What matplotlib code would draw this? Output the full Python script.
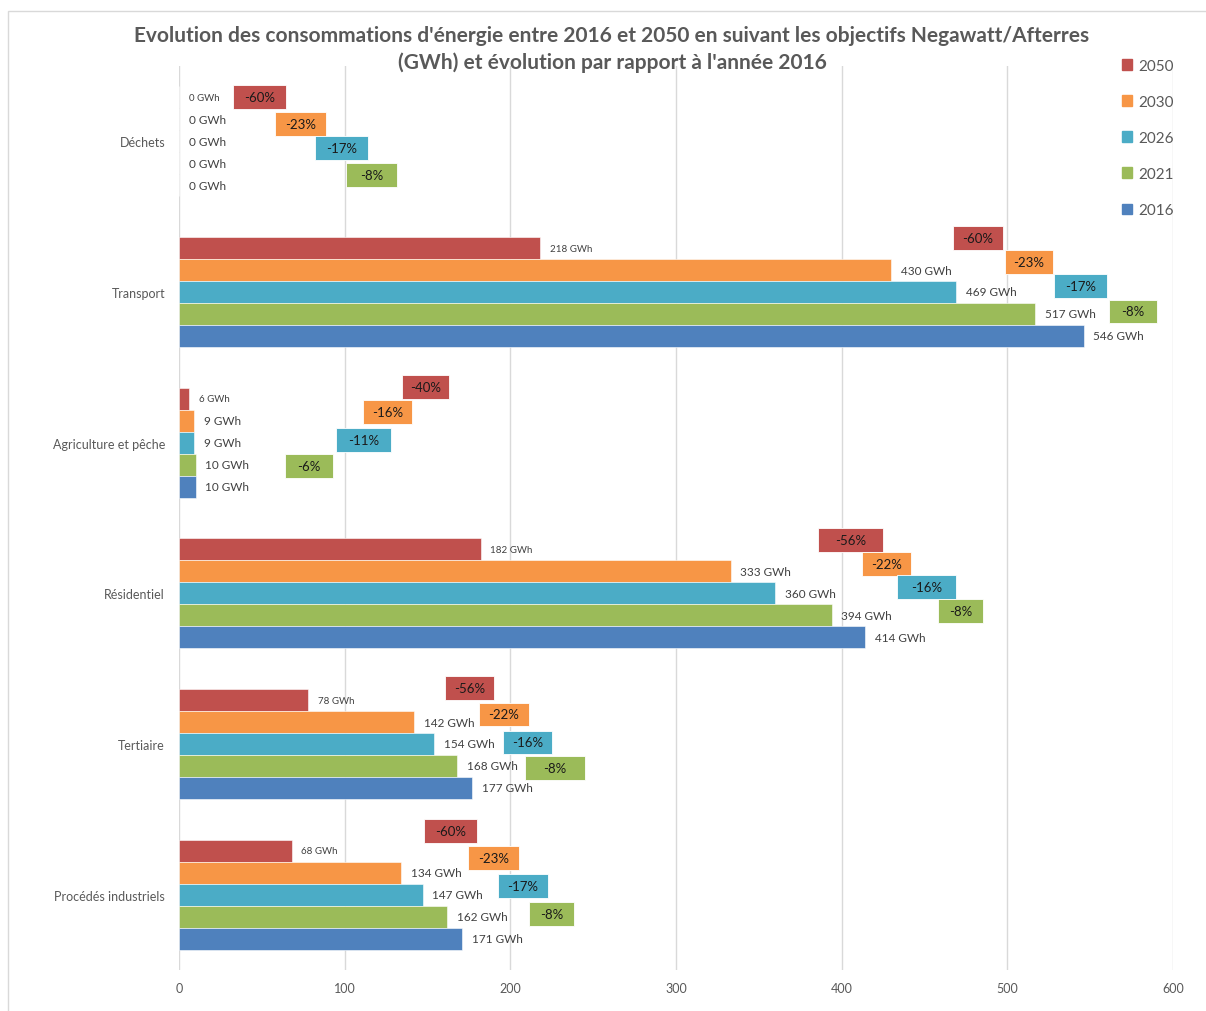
import numpy as np
import matplotlib
matplotlib.use("Agg")
import matplotlib.pyplot as plt
from matplotlib.patches import Rectangle, Patch

plt.rcParams['font.family'] = ['Lato', 'DejaVu Sans']

# Données (GWh)
categories = ["Déchets", "Transport", "Agriculture et pêche", "Résidentiel", "Tertiaire", "Procédés industriels"]
annees = ["2050", "2030", "2026", "2021", "2016"]
couleurs = ["#C0504D", "#F79646", "#4BACC6", "#9BBB59", "#4F81BD"]

v2050 = [0, 218, 6, 182, 78, 68]
v2030 = [0, 430, 9, 333, 142, 134]
v2026 = [0, 469, 9, 360, 154, 147]
v2021 = [0, 517, 10, 394, 168, 162]
v2016 = [0, 546, 10, 414, 177, 171]

# évolution par rapport à 2016 (%)
pct2050 = [-60, -60, -40, -56, -56, -60]
pct2030 = [-23, -23, -16, -22, -22, -23]
pct2026 = [-17, -17, -11, -16, -16, -17]
pct2021 = [-8, -8, -6, -8, -8, -8]

# position des étiquettes % (placées à la main dans le graphique d'origine)
box_x2050 = [(32.6, 64.6), (467.1, 497.3), (134.6, 162.9), (385.6, 424.9), (160.5, 190.1), (147.9, 179.8)]
box_x2030 = [(57.9, 88.7), (498.5, 527.5), (111.0, 140.6), (412.2, 441.8), (181.1, 211.2), (174.4, 205.2)]
box_x2026 = [(82.1, 114.1), (528.1, 560.0), (94.7, 127.9), (433.3, 468.9), (195.5, 225.1), (192.5, 222.7)]
box_x2021 = [(100.8, 131.6), (561.3, 590.2), (64.0, 92.9), (458.1, 485.2), (208.8, 245.0), (211.2, 238.4)]
box_y2050 = [-0.295, -0.358, -0.372, -0.355, -0.372, -0.425]
box_y2030 = [-0.113, -0.199, -0.202, -0.196, -0.196, -0.246]
box_y2026 = [0.046, -0.040, -0.020, -0.040, -0.010, -0.060]
box_y2021 = [0.226, 0.129, 0.156, 0.116, 0.159, 0.126]

valeurs = [v2050, v2030, v2026, v2021, v2016]
pcts = [pct2050, pct2030, pct2026, pct2021]
boxes_x = [box_x2050, box_x2030, box_x2026, box_x2021]
boxes_y = [box_y2050, box_y2030, box_y2026, box_y2021]

gris = "#595959"

fig = plt.figure(figsize=(12.06, 10.12), dpi=100)
ax = fig.add_axes([179 / 1206, 1 - 971 / 1012, (1173 - 179) / 1206, 904 / 1012])

y = np.arange(len(categories))
h = 0.146
for k, (vals, coul) in enumerate(zip(valeurs, couleurs)):
    pos = y + (k - 2) * h
    ax.barh(pos, vals, height=h, color=coul, edgecolor='white', linewidth=0.4, zorder=2)
    taille = 7 if k == 0 else 8.5
    for p, v in zip(pos, vals):
        ax.annotate(f"{v} GWh", (v, p), xytext=(7, 0), textcoords='offset points',
                    va='center', ha='left', fontsize=taille, color="#404040")

# étiquettes d'évolution
for k in range(4):
    for i in range(len(categories)):
        x0, x1 = boxes_x[k][i]
        yc = y[i] + boxes_y[k][i]
        ax.barh(yc, x1 - x0, left=x0, height=0.158, color=couleurs[k],
                edgecolor='white', linewidth=0.6, zorder=3)
        ax.text((x0 + x1) / 2, yc, f"{pcts[k][i]}%", ha='center', va='center',
                fontsize=9.5, color="#1a1a1a", zorder=4)

ax.set_xlim(0, 600)
ax.set_ylim(len(categories) - 0.5, -0.5)
ax.set_xticks(np.arange(0, 601, 100))
ax.set_yticks(y)
ax.set_yticklabels(categories)
ax.tick_params(axis='both', length=0, colors=gris, labelsize=9)
ax.tick_params(axis='x', pad=9)
ax.tick_params(axis='y', pad=10)
ax.grid(axis='x', color='#D9D9D9', linewidth=1, zorder=0)
ax.set_axisbelow(True)
for s in ax.spines.values():
    s.set_visible(False)

fig.text(612 / 1206, 1 - 36 / 1012,
         "Evolution des consommations d'énergie entre 2016 et 2050 en suivant les objectifs Negawatt/Afterres",
         ha='center', va='center', fontsize=15, fontweight='bold', color=gris)
fig.text(612 / 1206, 1 - 63 / 1012,
         "(GWh) et évolution par rapport à l'année 2016",
         ha='center', va='center', fontsize=15, fontweight='bold', color=gris)

handles = [Patch(color=c, label=a) for a, c in zip(annees, couleurs)]
fig.legend(handles=handles, loc='upper left', bbox_to_anchor=(1114 / 1206, 1 - 52 / 1012),
           frameon=False, fontsize=11, labelcolor=gris, handlelength=0.7, handleheight=0.7,
           handletextpad=0.4, labelspacing=1.45, borderpad=0)

fig.patches.append(Rectangle((8 / 1206, -0.01), 1.0, 1 - 12 / 1012 + 0.01, transform=fig.transFigure,
                             fill=False, edgecolor='#D9D9D9', linewidth=1))

fig.savefig("out.png", dpi=100)
